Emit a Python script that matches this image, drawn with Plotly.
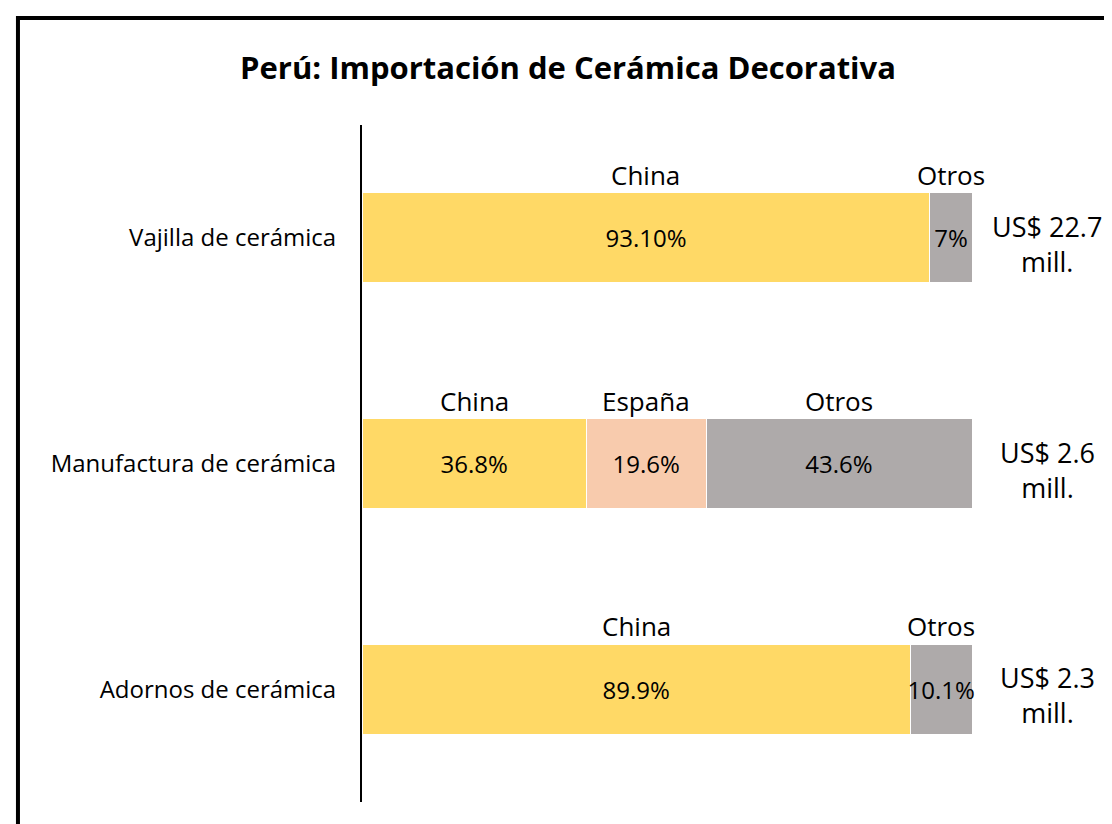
import plotly.graph_objects as go

# datos
productos = ["Vajilla de cerámica", "Manufactura de cerámica", "Adornos de cerámica"]
china = [93.1, 36.8, 89.9]
espana = [0, 19.6, 0]
otros = [6.9, 43.6, 10.1]
china_txt = ["93.10%", "36.8%", "89.9%"]
espana_txt = ["", "19.6%", ""]
otros_txt = ["7%", "43.6%", "10.1%"]
totales = ["US$ 22.7", "US$ 2.6", "US$ 2.3"]

FONT = "Open Sans"
colores = {"China": "#FFD966", "España": "#F8CBAD", "Otros": "#AEAAAA"}

fig = go.Figure()

series = [("China", china, china_txt), ("España", espana, espana_txt), ("Otros", otros, otros_txt)]
for nombre, vals, txt in series:
    fig.add_trace(go.Bar(
        y=productos,
        x=vals,
        orientation='h',
        name=nombre,
        marker=dict(color=colores[nombre], line=dict(color='white', width=1)),
        text=txt,
        textposition='inside',
        insidetextanchor='middle',
        textangle=0,
        constraintext='none',
        textfont=dict(family=FONT, size=24, color='black'),
        cliponaxis=False,
    ))

# etiquetas de serie encima de cada segmento
for i, prod in enumerate(productos):
    acum = 0
    for nombre, vals, _ in series:
        v = vals[i]
        if v > 0:
            fig.add_annotation(
                x=acum + v / 2, y=prod, xref='x', yref='y',
                text=nombre, showarrow=False, yshift=63,
                font=dict(family=FONT, size=26, color='black'),
            )
        acum += v
    # total importado a la derecha
    fig.add_annotation(
        x=1.123, y=prod, xref='paper', yref='y',
        text=f"{totales[i]}<br>mill.", showarrow=False,
        xanchor='center', yshift=-6,
        font=dict(family=FONT, size=27, color='black'),
    )

# marco del grafico
fig.add_shape(type='rect', xref='paper', yref='paper',
              x0=-0.564, x1=2, y0=-1, y1=1.158,
              line=dict(color='black', width=4))

fig.update_layout(
    title=dict(text="<b>Perú: Importación de Cerámica Decorativa</b>",
               x=560 / 1112, xanchor='center', y=1 - 60 / 824, yanchor='middle',
               font=dict(family=FONT, size=31, color='black')),
    barmode='stack',
    bargap=0.6,
    showlegend=False,
    width=1112, height=824,
    margin=dict(l=354, r=148, t=117, b=30),
    plot_bgcolor='white',
    paper_bgcolor='white',
    xaxis=dict(range=[0, 100], visible=False),
    yaxis=dict(autorange='reversed', showline=True, linecolor='black', linewidth=2,
               ticks='', ticklabelstandoff=19, showgrid=False,
               tickfont=dict(family=FONT, size=24, color='black')),
)

fig.write_html("out.html")
